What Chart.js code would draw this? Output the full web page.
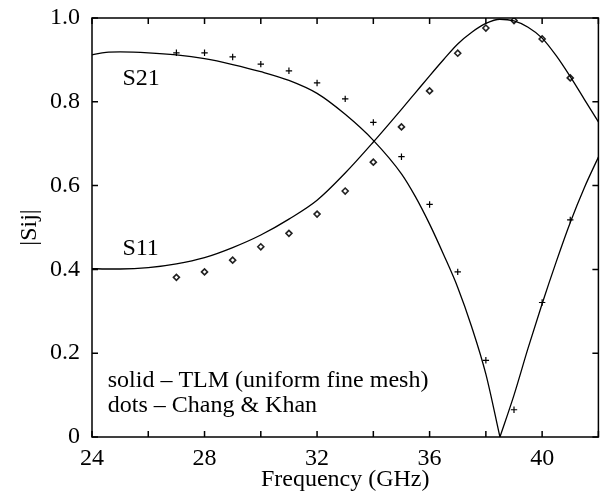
<!DOCTYPE html>
<html>
<head>
<meta charset="utf-8">
<script src="https://cdn.jsdelivr.net/npm/chart.js@4/dist/chart.umd.min.js"></script>
<style>
  html, body { margin: 0; padding: 0; overflow: hidden; background: #fff; }
  #wrap { width: 604px; height: 500px; }
</style>
</head>
<body>
<div id="wrap"><canvas id="c" width="604" height="500"></canvas></div>
<script>
// Frequency grid (GHz) for the TLM solid curves
const curveFreq = [24, 24.5, 25, 26, 27, 28, 29, 30, 31, 32, 33, 34, 35, 35.5, 36, 36.5, 37, 37.5, 38, 38.5, 39, 39.5, 40, 40.5, 41, 41.5, 42];
// |S21| and |S11| from TLM (uniform fine mesh)
const tlmS21 = [0.912, 0.918, 0.919, 0.917, 0.912, 0.903, 0.889, 0.872, 0.851, 0.820, 0.770, 0.708, 0.628, 0.573, 0.508, 0.435, 0.357, 0.262, 0.150, 0.0, 0.100, 0.212, 0.318, 0.418, 0.512, 0.595, 0.668];
const tlmS11 = [0.402, 0.401, 0.401, 0.404, 0.413, 0.428, 0.452, 0.482, 0.520, 0.565, 0.630, 0.704, 0.782, 0.822, 0.862, 0.901, 0.938, 0.966, 0.987, 0.997, 0.993, 0.978, 0.952, 0.910, 0.860, 0.806, 0.752];

// Reference points (Chang & Khan)
const refFreq = [27, 28, 29, 30, 31, 32, 33, 34, 35, 36, 37, 38, 39, 40, 41];
const refS21 = [0.917, 0.917, 0.907, 0.890, 0.874, 0.845, 0.807, 0.751, 0.669, 0.555, 0.394, 0.183, 0.065, 0.321, 0.518];
const refS11 = [0.381, 0.394, 0.422, 0.454, 0.486, 0.532, 0.587, 0.656, 0.740, 0.826, 0.916, 0.976, 0.994, 0.950, 0.857];

// Axis ticks
const xTicks = [24, 26, 28, 30, 32, 34, 36, 38, 40, 42];
const xLabels = [24, 28, 32, 36, 40];
const yTicks = [0, 0.2, 0.4, 0.6, 0.8, 1.0];

// Text annotations, anchored in data coordinates
const curveNames = [
  { text: 'S21', x: 25.08, y: 0.841 },
  { text: 'S11', x: 25.08, y: 0.434 }
];
const keyLines = [
  { text: 'solid \u2013 TLM (uniform fine mesh)', x: 24.56, y: 0.119 },
  { text: 'dots \u2013 Chang & Khan', x: 24.56, y: 0.059 }
];

const FONT = "'Liberation Serif', 'Times New Roman', serif";
const SIZE = 24;
Chart.defaults.font.family = FONT;
Chart.defaults.color = '#000';

const pts = (xs, ys) => xs.map((x, i) => ({ x, y: ys[i] }));

// The S21 curve has a sharp null; split it there so each branch is interpolated separately
const nullIdx = tlmS21.indexOf(Math.min(...tlmS21));
const s21Curve = pts(curveFreq, tlmS21);

const lineStyle = {
  borderColor: '#000',
  borderWidth: 1.3,
  pointRadius: 0,
  fill: false,
  cubicInterpolationMode: 'monotone'
};

const frameAndText = {
  id: 'frameAndText',
  afterDraw(chart) {
    const { ctx, chartArea: a, scales: { x, y } } = chart;
    ctx.save();
    ctx.strokeStyle = '#000';
    ctx.lineWidth = 1.5;
    ctx.strokeRect(a.left, a.top, a.right - a.left, a.bottom - a.top);
    const t = 6;
    ctx.beginPath();
    xTicks.forEach(v => {
      const px = x.getPixelForValue(v);
      ctx.moveTo(px, a.bottom); ctx.lineTo(px, a.bottom - t);
      ctx.moveTo(px, a.top); ctx.lineTo(px, a.top + t);
    });
    yTicks.forEach(v => {
      const py = y.getPixelForValue(v);
      ctx.moveTo(a.left, py); ctx.lineTo(a.left + t, py);
      ctx.moveTo(a.right, py); ctx.lineTo(a.right - t, py);
    });
    ctx.stroke();

    ctx.fillStyle = '#000';
    ctx.font = SIZE + 'px ' + FONT;
    ctx.textAlign = 'left';
    ctx.textBaseline = 'alphabetic';
    curveNames.concat(keyLines).forEach(n => {
      ctx.fillText(n.text, x.getPixelForValue(n.x), y.getPixelForValue(n.y));
    });
    ctx.restore();
  }
};

const zeroPad = s => { s.paddingTop = 0; s.paddingBottom = 0; s.paddingLeft = 0; s.paddingRight = 0; };

new Chart(document.getElementById('c'), {
  type: 'scatter',
  data: {
    datasets: [
      Object.assign({ label: 'S21 TLM', type: 'line', data: s21Curve.slice(0, nullIdx + 1) }, lineStyle),
      Object.assign({ label: 'S21 TLM (upper)', type: 'line', data: s21Curve.slice(nullIdx) }, lineStyle),
      Object.assign({ label: 'S11 TLM', type: 'line', data: pts(curveFreq, tlmS11) }, lineStyle),
      {
        label: 'S21 Chang & Khan',
        data: pts(refFreq, refS21),
        pointStyle: 'cross',
        pointRadius: 3.2,
        borderColor: '#000',
        borderWidth: 1.2
      },
      {
        label: 'S11 Chang & Khan',
        data: pts(refFreq, refS11),
        pointStyle: 'rectRot',
        pointRadius: 3,
        borderColor: '#222',
        backgroundColor: '#fff',
        borderWidth: 1.6
      }
    ]
  },
  options: {
    responsive: false,
    animation: false,
    devicePixelRatio: 1,
    layout: { padding: { left: 0, top: 18, right: 2, bottom: 0 } },
    plugins: { legend: { display: false }, tooltip: { enabled: false } },
    scales: {
      x: {
        type: 'linear',
        min: 24,
        max: 42,
        grid: { display: false, drawTicks: false },
        border: { display: false },
        afterBuildTicks: s => { s.ticks = xTicks.map(v => ({ value: v })); },
        afterFit: s => { s.height = 63; zeroPad(s); },
        ticks: {
          padding: 7,
          maxRotation: 0,
          autoSkip: false,
          font: { size: SIZE, family: FONT },
          color: '#000',
          callback: v => (xLabels.includes(v) ? String(v) : '')
        },
        title: {
          display: true,
          text: 'Frequency (GHz)',
          font: { size: SIZE, family: FONT },
          color: '#000',
          padding: { top: 0, bottom: 5.5 }
        }
      },
      y: {
        type: 'linear',
        min: 0,
        max: 1,
        grid: { display: false, drawTicks: false },
        border: { display: false },
        afterBuildTicks: s => { s.ticks = yTicks.map(v => ({ value: v })); },
        afterFit: s => { s.width = 92; zeroPad(s); },
        ticks: {
          padding: 12,
          font: { size: SIZE, family: FONT },
          color: '#000',
          callback: v => (v === 0 ? '0' : v.toFixed(1))
        },
        title: {
          display: true,
          text: '|Sij|',
          font: { size: SIZE, family: FONT },
          color: '#000',
          padding: { top: 15.5, bottom: 0 }
        }
      }
    }
  },
  plugins: [frameAndText]
});
</script>
</body>
</html>
